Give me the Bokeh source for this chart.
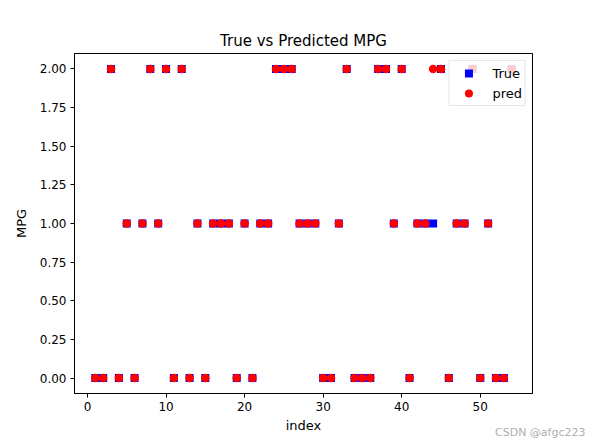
from bokeh.plotting import figure
from bokeh.models import Range1d, FixedTicker, NumeralTickFormatter, Legend, LegendItem, Label, Title, ColumnDataSource
from bokeh.embed import file_html
from bokeh.resources import INLINE

index = [1, 2, 3, 4, 5, 6, 7, 8, 9, 10, 11, 12, 13, 14, 15, 16, 17, 18, 19, 20,
         21, 22, 23, 24, 25, 26, 27, 28, 29, 30, 31, 32, 33, 34, 35, 36, 37, 38, 39, 40,
         41, 42, 43, 44, 45, 46, 47, 48, 49, 50, 51, 52, 53, 54]
true_vals = [0, 0, 2, 0, 1, 0, 1, 2, 1, 2, 0, 2, 0, 1, 0, 1, 1, 1, 0, 1,
             0, 1, 1, 2, 2, 2, 1, 1, 1, 0, 0, 1, 2, 0, 0, 0, 2, 2, 1, 2,
             0, 1, 1, 1, 2, 0, 1, 1, 2, 0, 1, 0, 0, 2]
pred_vals = [0, 0, 2, 0, 1, 0, 1, 2, 1, 2, 0, 2, 0, 1, 0, 1, 1, 1, 0, 1,
             0, 1, 1, 2, 2, 2, 1, 1, 1, 0, 0, 1, 2, 0, 0, 0, 2, 2, 1, 2,
             0, 1, 1, 2, 2, 0, 1, 1, 2, 0, 1, 0, 0, 2]
x_ticks = [0, 10, 20, 30, 40, 50]
y_ticks = [0.0, 0.25, 0.5, 0.75, 1.0, 1.25, 1.5, 1.75, 2.0]

FONT = "DejaVu Sans"

p = figure(width=591, height=443, output_backend="svg", toolbar_location=None,
           title=None,
           x_range=Range1d(-1.65, 56.65), y_range=Range1d(-0.1, 2.1),
           min_border_left=74, min_border_right=59, min_border_top=53, min_border_bottom=50)

title = Title(text="True vs Predicted MPG", align="center", text_font=FONT,
              text_font_size="15px", text_font_style="normal", text_color="black",
              offset=0, standoff=7)
p.add_layout(title, "above")

p.xgrid.visible = False
p.ygrid.visible = False
p.outline_line_color = "black"
p.outline_line_width = 1
p.outline_line_alpha = 1

src = ColumnDataSource(dict(x=index, t=true_vals, p=pred_vals))
r_true = p.scatter("x", "t", source=src, marker="square", size=8,
                   fill_color="blue", line_color="blue", line_width=0)
r_pred = p.scatter("x", "p", source=src, marker="circle", size=8.5,
                   fill_color="red", line_color="red", line_width=0)

for ax in (p.xaxis[0], p.yaxis[0]):
    ax.major_label_text_font = FONT
    ax.major_label_text_font_size = "12px"
    ax.major_label_text_color = "black"
    ax.axis_label_text_font = FONT
    ax.axis_label_text_font_size = "13px"
    ax.axis_label_text_font_style = "normal"
    ax.axis_label_text_color = "black"
    ax.minor_tick_line_color = None
    ax.major_tick_in = 0
    ax.major_tick_out = 4
    ax.major_tick_line_color = "black"
    ax.axis_line_color = "black"

p.xaxis.ticker = FixedTicker(ticks=x_ticks)
p.yaxis.ticker = FixedTicker(ticks=y_ticks)
p.yaxis.formatter = NumeralTickFormatter(format="0.00")
p.xaxis.axis_label = "index"
p.yaxis.axis_label = "MPG"
p.xaxis.major_label_standoff = 4
p.yaxis.major_label_standoff = 4
p.xaxis.axis_label_standoff = 4
p.yaxis.axis_label_standoff = 8

legend = Legend(items=[LegendItem(label="True", renderers=[r_true]),
                       LegendItem(label="pred", renderers=[r_pred])],
                location="top_right")
legend.label_text_font = FONT
legend.label_text_font_size = "13px"
legend.label_text_color = "black"
legend.border_line_color = "#d0d0d0"
legend.background_fill_alpha = 0.8
legend.margin = 7
legend.padding = 2
legend.spacing = 0
legend.glyph_width = 34
legend.glyph_height = 20
legend.label_height = 20
legend.label_standoff = 7
p.add_layout(legend, "center")

wm = Label(x=511, y=-406, x_units="screen", y_units="screen", text="CSDN @afgc223",
           text_align="right", text_baseline="middle", text_font=FONT,
           text_font_size="11px", text_color="#b0b0b0")
p.add_layout(wm, "above")

open("out.html", "w").write(file_html(p, INLINE))
